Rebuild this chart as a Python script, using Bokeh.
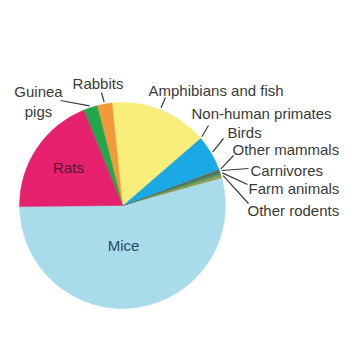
import numpy as np
from bokeh.plotting import figure
from bokeh.models import Range1d, ColumnDataSource
from bokeh.core.properties import value
from bokeh.embed import file_html
from bokeh.resources import INLINE

# ---- data (percent share, counter-clockwise from the Mice slice) ----
categories = ["Mice", "Other rodents", "Farm animals", "Carnivores", "Other mammals",
              "Birds", "Non-human primates", "Amphibians and fish", "Rabbits",
              "Guinea pigs", "Rats"]
shares = [54.2, 0.5, 0.36, 0.39, 0.14, 5.58, 0.1, 15.2, 2.36, 2.2, 19.0]
label_texts = ["Mice", "Other rodents", "Farm animals", "Carnivores", "Other mammals",
               "Birds", "Non-human primates", "Amphibians and fish", "Rabbits",
               "Guinea\npigs", "Rats"]

# ---- styles / layout ----
colors = ["#A9DCEB", "#8E9E52", "#4E8A5A", "#3F7A5C", "#8A5A55",
          "#1BA9E6", "#C8D86A", "#F8EE7C", "#F39A38", "#22A84A", "#E5206C"]
W = H = 350
cx, cy_pix, R = 122, 205, 103
cy = H - cy_pix
start_deg = 180.6
FONT = value("Liberation Sans")

# outside label anchors (pixel coords): text x, text y, align, leader outer end x, y
outside = {
    "Other rodents":       (247, 210, "left",   248, 203),
    "Farm animals":        (248, 188, "left",   247, 184),
    "Carnivores":          (250, 170, "left",   248, 168),
    "Other mammals":       (232, 149, "left",   233, 155),
    "Birds":               (227, 132, "left",   223, 138),
    "Non-human primates":  (191, 113, "left",   208, 125),
    "Amphibians and fish": (148,  90, "left",   165,  97),
    "Rabbits":             (97.5, 83, "center", 101,  92),
    "Guinea pigs":         (38,  101, "center",  60, 100),
}
inside = {"Mice": (123, 245, "#2C4A5C"), "Rats": (68, 167, "#5A1030")}

vals = np.array(shares, dtype=float)
frac = vals / vals.sum()
ends = np.radians(start_deg) + np.cumsum(frac) * 2 * np.pi
starts = ends - frac * 2 * np.pi
mids = (starts + ends) / 2

p = figure(width=W, height=H, x_range=Range1d(0, W), y_range=Range1d(0, H),
           output_backend="svg", toolbar_location=None, min_border=0,
           x_axis_type=None, y_axis_type=None)
p.grid.visible = False
p.outline_line_color = None
p.background_fill_color = "white"

src = ColumnDataSource(dict(start=starts, end=ends, color=colors))
p.wedge(x=cx, y=cy, radius=R, start_angle="start", end_angle="end",
        fill_color="color", line_color="color", line_width=0.5, source=src)

# leader lines + outside labels
x0, y0, x1, y1 = [], [], [], []
tx, ty, tt, ta = [], [], [], []
for i, cat in enumerate(categories):
    if cat in outside:
        lx, ly, al, ox, oy = outside[cat]
        x0.append(cx + (R + 2) * np.cos(mids[i]))
        y0.append(cy + (R + 2) * np.sin(mids[i]))
        x1.append(ox)
        y1.append(H - oy)
        tx.append(lx)
        ty.append(H - ly)
        tt.append(label_texts[i])
        ta.append(al)

p.segment(x0=x0, y0=y0, x1=x1, y1=y1, line_color="#3A3A3A", line_width=1.2)
p.text(x=tx, y=ty, text=tt, text_align=ta, text_baseline="middle",
       text_font=FONT, text_font_size="15px", text_color="#3A3A3A",
       text_line_height=1.2)

for cat, (lx, ly, col) in inside.items():
    i = categories.index(cat)
    p.text(x=[lx], y=[H - ly], text=[label_texts[i]], text_align="center",
           text_baseline="middle", text_font=FONT, text_font_size="15px",
           text_color=col)

open("out.html", "w").write(file_html(p, INLINE))
